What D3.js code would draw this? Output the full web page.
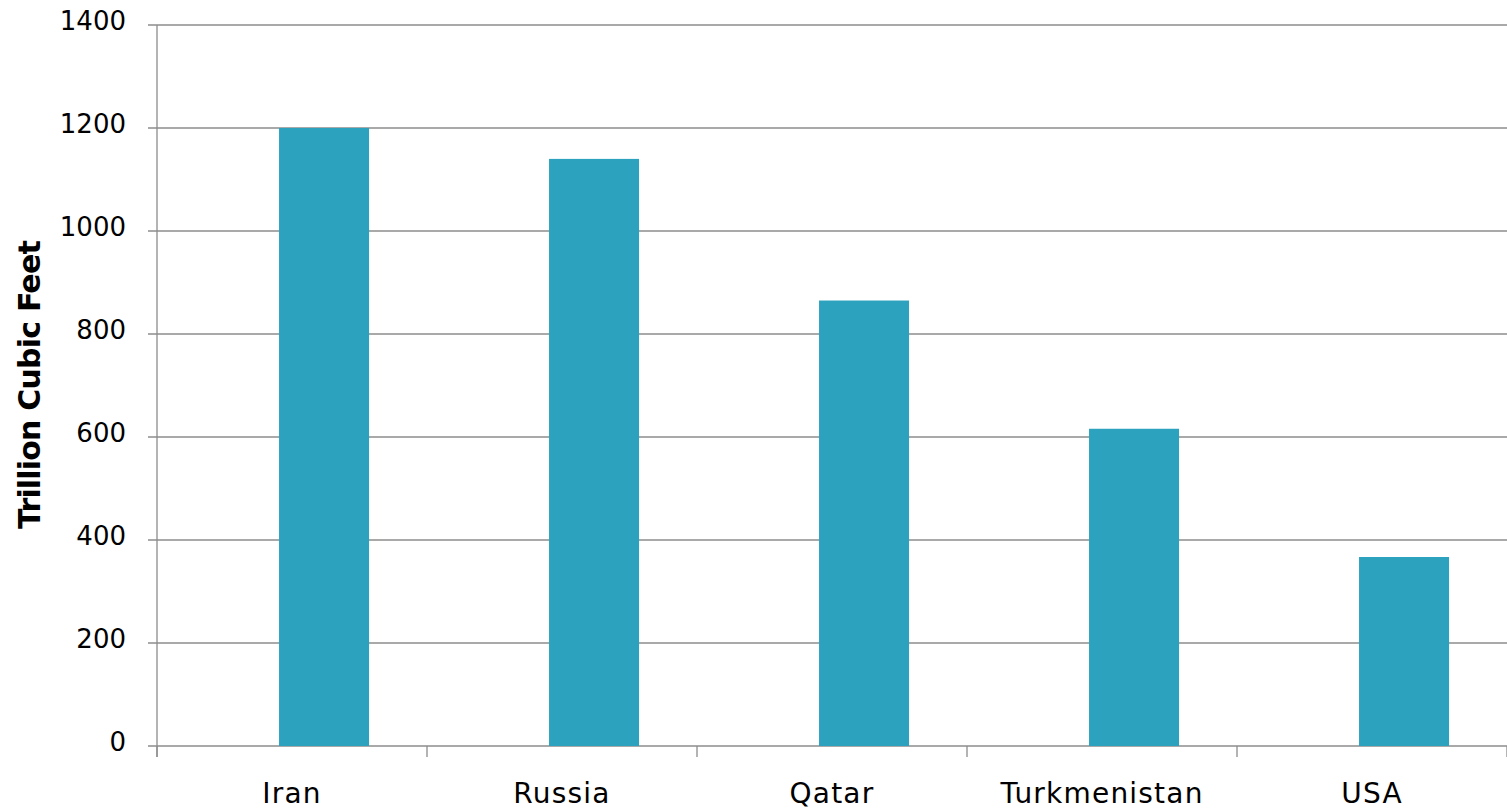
<!DOCTYPE html>
<html><head><meta charset="utf-8">
<script src="https://cdn.jsdelivr.net/npm/d3@7"></script>
<style>body{margin:0;background:#fff}svg{display:block}</style>
</head><body>
<svg id="c" width="1507" height="810"></svg>
<script>
const categories = ["Iran","Russia","Qatar","Turkmenistan","USA"];
const values = [1200,1140,865,616,367];
const yTicks = [0,200,400,600,800,1000,1200,1400];
const yTitle = "Trillion Cubic Feet";

const svg = d3.select("#c");
const m = {left:157, right:1507, top:25, bottom:746};
const font = "'DejaVu Sans', sans-serif";
const x = d3.scaleBand().domain(categories).range([m.left, m.right]).padding(0);
const y = d3.scaleLinear().domain([0,1400]).range([m.bottom, m.top]);
const grid = "#8c8c8c";

// gridlines
svg.append("g").selectAll("line").data(yTicks).join("line")
  .attr("x1", m.left-9).attr("x2", m.right)
  .attr("y1", d=>y(d)).attr("y2", d=>y(d))
  .attr("stroke", grid).attr("stroke-width", 1.3);

// bars
const bw = x.bandwidth();
svg.append("g").selectAll("rect").data(categories).join("rect")
  .attr("x", d=>x(d)+bw*0.452)
  .attr("width", bw/3)
  .attr("y", (d,i)=>y(values[i]))
  .attr("height", (d,i)=>y(0)-y(values[i]))
  .attr("fill", "#2da2bf");

// y axis line
svg.append("line").attr("x1",m.left).attr("x2",m.left).attr("y1",m.top).attr("y2",m.bottom+11)
  .attr("stroke",grid).attr("stroke-width",1.3);
// x axis ticks at band boundaries
const bounds = categories.map(c=>x(c)).concat([x(categories[categories.length-1])+bw]);
svg.append("g").selectAll("line").data(bounds).join("line")
  .attr("x1",d=>d).attr("x2",d=>d).attr("y1",m.bottom).attr("y2",m.bottom+11)
  .attr("stroke",grid).attr("stroke-width",1.3);

// y tick labels
svg.append("g").selectAll("text").data(yTicks).join("text")
  .attr("x", 126).attr("y", d=>y(d)+5)
  .attr("text-anchor","end").attr("font-family",font).attr("font-size",26)
  .attr("fill","#000").text(d=>d);

// x labels
svg.append("g").selectAll("text").data(categories).join("text")
  .attr("x", d=>x(d)+bw/2).attr("y", 803)
  .attr("text-anchor","middle").attr("font-family",font).attr("font-size",28)
  .attr("letter-spacing","1.2px")
  .attr("fill","#000").text(d=>d);

// y title
svg.append("text").attr("transform","translate(40,385) rotate(-90)")
  .attr("text-anchor","middle").attr("font-family",font).attr("font-size",30)
  .attr("letter-spacing","-0.8px")
  .attr("font-weight","bold").attr("fill","#000").text(yTitle);
</script>
</body></html>
